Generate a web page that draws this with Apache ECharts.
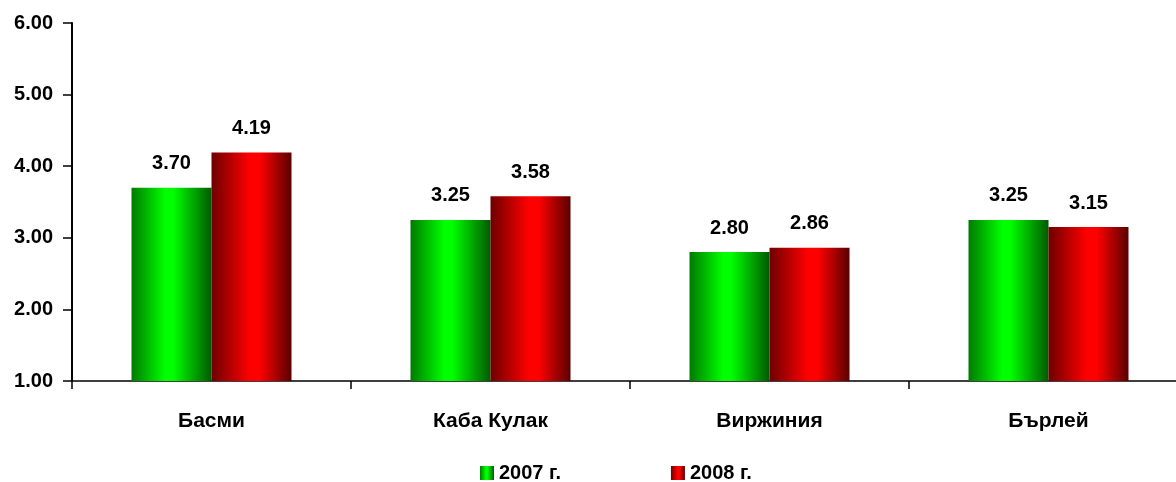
<!DOCTYPE html>
<html>
<head>
<meta charset="utf-8">
<script src="https://cdn.jsdelivr.net/npm/echarts@6/dist/echarts.min.js"></script>
<style>
    html, body { margin: 0; padding: 0; background: #fff; }
    #chart { width: 1176px; height: 482px; }
</style>
</head>
<body>
<div id="chart"></div>
<script>
const categories = ['Басми', 'Каба Кулак', 'Виржиния', 'Бърлей'];
const values2007 = [3.70, 3.25, 2.80, 3.25];
const values2008 = [4.19, 3.58, 2.86, 3.15];
const seriesNames = ['2007 г.', '2008 г.'];

const font = '"Liberation Sans", Arial, sans-serif';

// horizontal shading, dark edges with a bright band
function barGradient(left, light, right, from, to) {
    return new echarts.graphic.LinearGradient(0, 0, 1, 0, [
        {offset: 0, color: left},
        {offset: from, color: light},
        {offset: to, color: light},
        {offset: 1, color: right}
    ]);
}

const chart = echarts.init(document.getElementById('chart'));
chart.setOption({
    animation: false,
    grid: {left: 72, top: 23, right: -12, bottom: 101, containLabel: false, outerBoundsMode: 'none'},
    legend: {
        left: 475,
        top: 458,
        icon: 'rect',
        itemWidth: 14,
        itemHeight: 14,
        itemGap: 110,
        textStyle: {fontFamily: font, fontWeight: 'bold', fontSize: 20, color: '#000'},
        data: seriesNames
    },
    xAxis: {
        type: 'category',
        data: categories,
        axisLine: {lineStyle: {color: '#000', width: 1.5}},
        axisTick: {show: true, length: 8, lineStyle: {color: '#000', width: 1.5}},
        axisLabel: {margin: 30, fontFamily: font, fontWeight: 'bold', fontSize: 21, color: '#000'}
    },
    yAxis: {
        type: 'value',
        min: 1,
        max: 6,
        interval: 1,
        splitLine: {show: false},
        axisLine: {show: true, lineStyle: {color: '#000', width: 2}},
        axisTick: {show: true, length: 9, lineStyle: {color: '#000', width: 1.5}},
        axisLabel: {
            margin: 19,
            fontFamily: font, fontWeight: 'bold', fontSize: 20, color: '#000',
            formatter: v => v.toFixed(2)
        }
    },
    series: [
        {
            name: seriesNames[0],
            type: 'bar',
            data: values2007,
            barWidth: 80,
            barGap: '0%',
            itemStyle: {color: barGradient('#007a00', '#00ff00', '#005a00', 0.42, 0.52)},
            label: {
                show: true, position: 'top', distance: 14,
                fontFamily: font, fontWeight: 'bold', fontSize: 20, color: '#000',
                formatter: p => p.value.toFixed(2)
            }
        },
        {
            name: seriesNames[1],
            type: 'bar',
            data: values2008,
            barWidth: 80,
            barGap: '0%',
            itemStyle: {color: barGradient('#6e0000', '#ff0000', '#5a0000', 0.48, 0.6)},
            label: {
                show: true, position: 'top', distance: 14,
                fontFamily: font, fontWeight: 'bold', fontSize: 20, color: '#000',
                formatter: p => p.value.toFixed(2)
            }
        }
    ]
});
</script>
</body>
</html>
